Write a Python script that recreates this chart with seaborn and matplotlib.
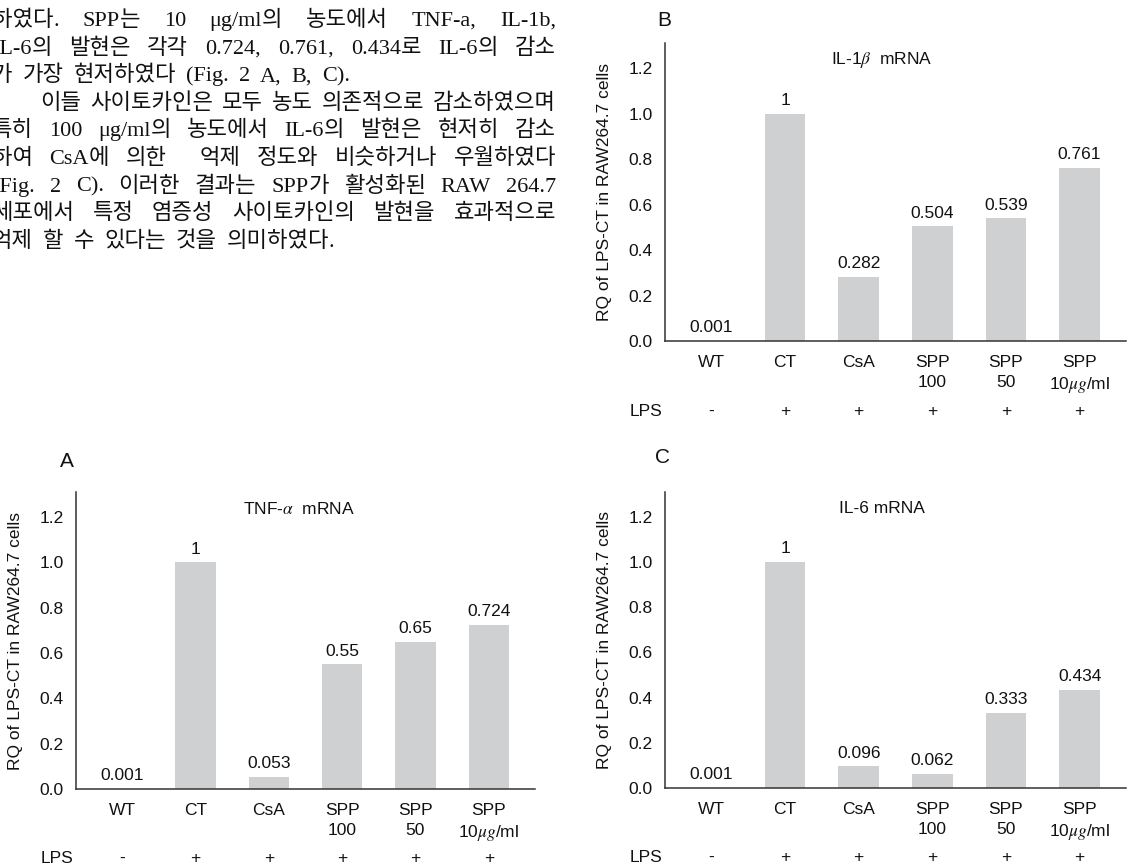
import itertools
import numpy as np
import pandas as pd
import matplotlib
matplotlib.use("Agg")
import matplotlib.pyplot as plt
import matplotlib.transforms as mtransforms
from matplotlib import font_manager
import seaborn as sns

# ---- data -------------------------------------------------------------
categories = ["WT", "CT", "CsA", "SPP\n100", "SPP\n50", "SPP\n10$\\mu g$/ml"]
lps_status = ["-", "+", "+", "+", "+", "+"]
tnf_alpha = [0.001, 1, 0.053, 0.55, 0.65, 0.724]
il_1beta = [0.001, 1, 0.282, 0.504, 0.539, 0.761]
il_6 = [0.001, 1, 0.096, 0.062, 0.333, 0.434]
y_ticks = [0.0, 0.2, 0.4, 0.6, 0.8, 1.0, 1.2]
y_label = "RQ of LPS-CT in RAW264.7 cells"

paragraph = [
    "하였다. SPP는 10 μg/ml의 농도에서 TNF-a, IL-1b,",
    "IL-6의 발현은 각각 0.724, 0.761, 0.434로 IL-6의 감소",
    "가 가장 현저하였다 (Fig. 2 A, B, C).",
    "이들 사이토카인은 모두 농도 의존적으로 감소하였으며",
    "특히 100 μg/ml의 농도에서 IL-6의 발현은 현저히 감소",
    "하여 CsA에 의한  억제 정도와 비슷하거나 우월하였다",
    "(Fig. 2 C). 이러한 결과는 SPP가 활성화된 RAW 264.7",
    "세포에서 특정 염증성 사이토카인의 발현을 효과적으로",
    "억제 할 수 있다는 것을 의미하였다.",
]

# ---- style ------------------------------------------------------------
W, H = 1130, 867
BAR = "#cfd0d2"
AXC = "#333333"

sns.set_theme(style="white")
available = {f.name for f in font_manager.fontManager.ttflist}
CHART_FONT = "Liberation Sans Narrow" if "Liberation Sans Narrow" in available else "Liberation Sans"
plt.rcParams["font.family"] = [CHART_FONT, "DejaVu Sans"]
plt.rcParams["mathtext.fontset"] = "stix"

fig = plt.figure(figsize=(W / 100, H / 100), dpi=100)
fig.patch.set_facecolor("white")


def px_rect(left, top, right, bottom):
    return [left / W, 1 - bottom / H, (right - left) / W, (bottom - top) / H]


def draw_panel(rect, values, title, title_x, letter, letter_xy):
    ax = fig.add_axes(px_rect(*rect))
    df = pd.DataFrame({"group": categories, "rq": values})
    sns.barplot(data=df, x="group", y="rq", order=categories, color=BAR,
                saturation=1, width=0.55, errorbar=None, linewidth=0, ax=ax)
    ax.set_xlim(-0.63, 5.63)
    ax.set_ylim(0, 1.31)

    ax.set_yticks(y_ticks)
    ax.set_yticklabels([f"{t:.1f}" for t in y_ticks])
    ax.tick_params(axis="y", direction="in", length=10.5, width=1.0,
                   color=AXC, pad=9, labelsize=12.5, labelcolor="#111111")
    ax.tick_params(axis="x", which="major", length=0, pad=10,
                   labelsize=12.5, labelcolor="#111111")
    ax.set_xticks(np.arange(len(categories)) + 0.5, minor=True)
    ax.tick_params(axis="x", which="minor", direction="in", length=10.5,
                   width=1.0, color=AXC)
    for lbl in ax.get_xticklabels():
        lbl.set_linespacing(1.4)

    for side in ("top", "right"):
        ax.spines[side].set_visible(False)
    for side in ("left", "bottom"):
        ax.spines[side].set_color(AXC)
        ax.spines[side].set_linewidth(1.1)

    ax.set_xlabel("")
    ax.set_ylabel(y_label, fontsize=12.5, labelpad=12, color="#111111")

    ax.bar_label(ax.containers[0], labels=[f"{v:g}" for v in values],
                 padding=4, fontsize=12.5, color="#111111")

    ax.text(title_x, 1.235, title, ha="center", va="center", fontsize=12.5,
            color="#111111")

    trans = mtransforms.blended_transform_factory(ax.transData, ax.transAxes)
    ax.text(-0.67, -0.235, "LPS", transform=trans, ha="right", va="center",
            fontsize=12.5, color="#111111")
    for i, s in enumerate(lps_status):
        ax.text(i, -0.235, s, transform=trans, ha="center", va="center",
                fontsize=12.5, color="#111111")

    fig.text(letter_xy[0] / W, 1 - letter_xy[1] / H, letter, ha="center",
             va="center", fontsize=15, color="#111111")
    return ax


draw_panel((665, 43, 1126, 341), il_1beta, "IL-1$\\beta$  mRNA", 2.32, "B", (664, 20))
draw_panel((76, 492, 535, 789), tnf_alpha, "TNF-$\\alpha$  mRNA", 2.41, "A", (67, 462))
draw_panel((665, 492, 1126, 788), il_6, "IL-6 mRNA", 2.32, "C", (663, 458))

# ---- justified body text ---------------------------------------------
# Hangul is set in a CJK face, Latin letters and figures in a serif face.
renderer = fig.canvas.get_renderer()
HANGUL_STYLE = dict(family="Noto Sans CJK KR", fontsize=16, fontweight="light")
LATIN_STYLE = dict(family=["Liberation Serif", "DejaVu Serif"], fontsize=16)


def is_hangul(ch):
    return "\uac00" <= ch <= "\ud7a3" or "\u3130" <= ch <= "\u318f"


def make_word(word):
    pieces = []
    for hangul, chars in itertools.groupby(word, key=is_hangul):
        run = "".join(chars)
        style = HANGUL_STYLE if hangul else LATIN_STYLE
        art = fig.text(0, 0, run, color="#111111", va="baseline", ha="left", **style)
        pieces.append((art, art.get_window_extent(renderer).width))
    return pieces


def text_line(line, x0, baseline, x1=None):
    words = [make_word(w) for w in line.split(" ")]
    widths = [sum(w for _, w in pieces) for pieces in words]
    if x1 is not None and len(words) > 1:
        gap = (x1 - x0 - sum(widths)) / (len(words) - 1)
    else:
        gap = 10
    x = x0
    for pieces, wdt in zip(words, widths):
        px = x
        for art, pw in pieces:
            art.set_position((px / W, 1 - baseline / H))
            px += pw
        x += wdt + gap


line_pitch = 27.6
for k, line in enumerate(paragraph):
    baseline = 26 + k * line_pitch
    start = 40 if k == 3 else -8
    right = None if k in (2, 8) else 556
    text_line(line, start, baseline, right)

fig.savefig("out.png", dpi=100, facecolor="white")
